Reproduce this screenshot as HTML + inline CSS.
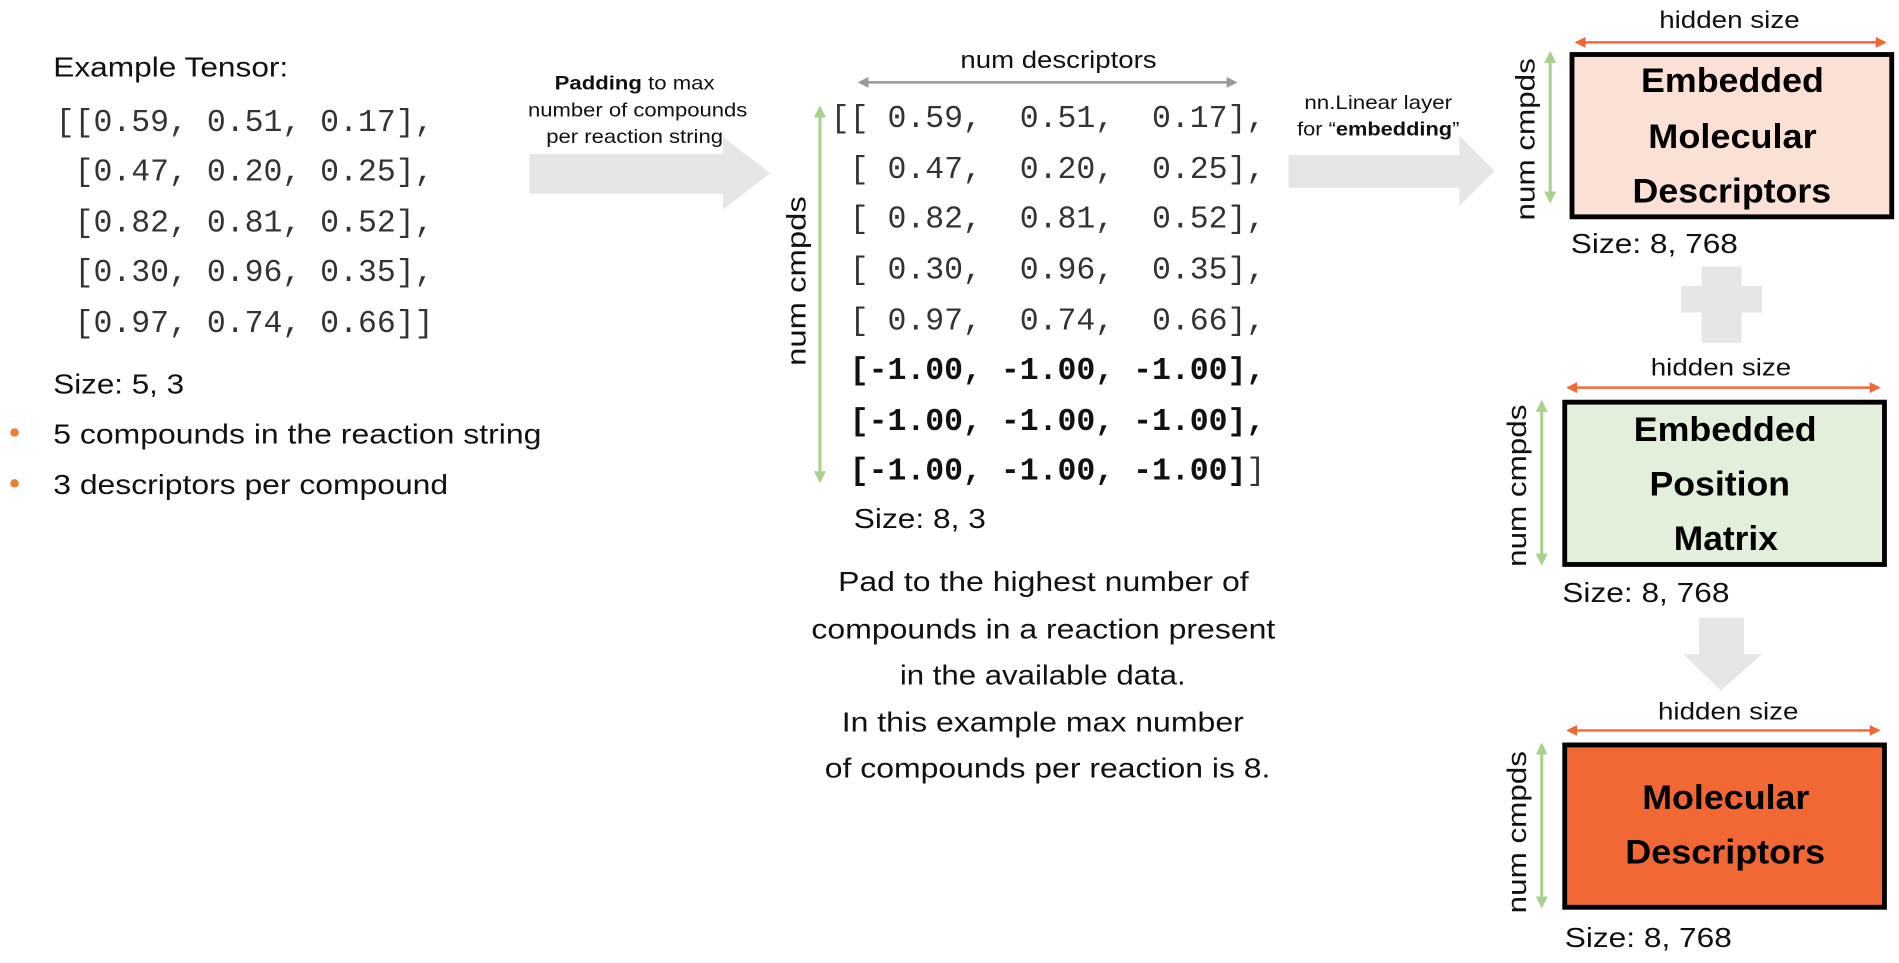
<!DOCTYPE html>
<html><head><meta charset="utf-8"><style>
html,body{margin:0;padding:0;background:#fff;overflow:hidden}
svg{display:block}
text{font-family:"Liberation Sans",Arial,sans-serif;fill:#111}
.mono{font-family:"Liberation Mono","Courier New",monospace;font-size:26px;fill:#333}
.bx{font-weight:bold;font-size:28px;fill:#000}
</style></head><body>
<svg width="1899" height="963" viewBox="0 0 1568 795" preserveAspectRatio="none" xmlns="http://www.w3.org/2000/svg">
<defs>
<marker id="ag" viewBox="0 0 10 10" refX="8" refY="5" markerWidth="9" markerHeight="9" markerUnits="userSpaceOnUse" orient="auto-start-reverse"><path d="M0,0L10,5L0,10z" fill="#999"/></marker>
<marker id="agr" viewBox="0 0 10 10" refX="8" refY="5" markerWidth="10" markerHeight="10" markerUnits="userSpaceOnUse" orient="auto-start-reverse"><path d="M0,0L10,5L0,10z" fill="#a9d18e"/></marker>
<marker id="ao" viewBox="0 0 10 10" refX="8" refY="5" markerWidth="12" markerHeight="9" markerUnits="userSpaceOnUse" orient="auto-start-reverse"><path d="M0,0L10,5L0,10z" fill="#f26835"/></marker>
</defs>

<g>
<text x="44" y="63" font-size="23" textLength="194" lengthAdjust="spacingAndGlyphs">Example Tensor:</text>
<text class="mono" xml:space="preserve">
<tspan x="46" y="108">[[0.59, 0.51, 0.17],</tspan>
<tspan x="46" y="149"> [0.47, 0.20, 0.25],</tspan>
<tspan x="46" y="191"> [0.82, 0.81, 0.52],</tspan>
<tspan x="46" y="232"> [0.30, 0.96, 0.35],</tspan>
<tspan x="46" y="274"> [0.97, 0.74, 0.66]]</tspan>
</text>
<text x="44" y="325" font-size="23" textLength="108" lengthAdjust="spacingAndGlyphs">Size: 5, 3</text>
<circle cx="12" cy="357" r="3.5" fill="#ed7d31"/>
<circle cx="12" cy="399" r="3.5" fill="#ed7d31"/>
<text x="44" y="366" font-size="23" textLength="403" lengthAdjust="spacingAndGlyphs">5 compounds in the reaction string</text>
<text x="44" y="408" font-size="23" textLength="326" lengthAdjust="spacingAndGlyphs">3 descriptors per compound</text>
</g>

<g>
<path d="M437,127H597V113L636,143L597,173V160H437Z" fill="#e6e6e6"/>
<text x="458" y="74" font-size="16" textLength="132" lengthAdjust="spacingAndGlyphs"><tspan font-weight="bold">Padding</tspan> to max</text>
<text x="436" y="96" font-size="16" textLength="181" lengthAdjust="spacingAndGlyphs">number of compounds</text>
<text x="451" y="118" font-size="16" textLength="146" lengthAdjust="spacingAndGlyphs">per reaction string</text>
</g>

<g>
<text x="793" y="56" font-size="20" textLength="162" lengthAdjust="spacingAndGlyphs">num descriptors</text>
<line x1="710" y1="68" x2="1020" y2="68" stroke="#999" stroke-width="2" marker-start="url(#ag)" marker-end="url(#ag)"/>
<line x1="677" y1="89" x2="677" y2="397" stroke="#a9d18e" stroke-width="2.5" marker-start="url(#agr)" marker-end="url(#agr)"/>
<text transform="translate(665,302) rotate(-90)" font-size="22" textLength="140" lengthAdjust="spacingAndGlyphs">num cmpds</text>
<text class="mono" xml:space="preserve">
<tspan x="686" y="105">[[ 0.59,  0.51,  0.17],</tspan>
<tspan x="686" y="147"> [ 0.47,  0.20,  0.25],</tspan>
<tspan x="686" y="188"> [ 0.82,  0.81,  0.52],</tspan>
<tspan x="686" y="230"> [ 0.30,  0.96,  0.35],</tspan>
<tspan x="686" y="272"> [ 0.97,  0.74,  0.66],</tspan>
<tspan x="686" y="313" font-weight="bold" fill="#111"> [-1.00, -1.00, -1.00],</tspan>
<tspan x="686" y="355" font-weight="bold" fill="#111"> [-1.00, -1.00, -1.00],</tspan>
<tspan x="686" y="396"><tspan font-weight="bold" fill="#111"> [-1.00, -1.00, -1.00]</tspan>]</tspan>
</text>
<text x="705" y="436" font-size="23" textLength="109" lengthAdjust="spacingAndGlyphs">Size: 8, 3</text>
<g font-size="23">
<text x="692" y="488" textLength="339" lengthAdjust="spacingAndGlyphs">Pad to the highest number of</text>
<text x="670" y="527" textLength="383" lengthAdjust="spacingAndGlyphs">compounds in a reaction present</text>
<text x="743" y="565" textLength="236" lengthAdjust="spacingAndGlyphs">in the available data.</text>
<text x="695" y="604" textLength="332" lengthAdjust="spacingAndGlyphs">In this example max number</text>
<text x="681" y="642" textLength="368" lengthAdjust="spacingAndGlyphs">of compounds per reaction is 8.</text>
</g>
</g>

<g>
<path d="M1064,128H1205V112L1234,141L1205,170V155H1064Z" fill="#e6e6e6"/>
<text x="1077" y="90" font-size="16" textLength="122" lengthAdjust="spacingAndGlyphs">nn.Linear layer</text>
<text x="1071" y="112" font-size="16" textLength="134" lengthAdjust="spacingAndGlyphs">for “<tspan font-weight="bold">embedding</tspan>”</text>
</g>

<g>
<text x="1370" y="23" font-size="20" textLength="116" lengthAdjust="spacingAndGlyphs">hidden size</text>
<line x1="1302" y1="35" x2="1556" y2="35" stroke="#f26835" stroke-width="2" marker-start="url(#ao)" marker-end="url(#ao)"/>
<line x1="1280" y1="44" x2="1280" y2="166" stroke="#a9d18e" stroke-width="2.5" marker-start="url(#agr)" marker-end="url(#agr)"/>
<text transform="translate(1267,182) rotate(-90)" font-size="22" textLength="134" lengthAdjust="spacingAndGlyphs">num cmpds</text>
<rect x="1298" y="45" width="264" height="134" fill="#fbe0d5" stroke="#000" stroke-width="4"/>
<text class="bx" x="1355" y="76" textLength="151" lengthAdjust="spacingAndGlyphs">Embedded</text>
<text class="bx" x="1361" y="122" textLength="139" lengthAdjust="spacingAndGlyphs">Molecular</text>
<text class="bx" x="1348" y="167" textLength="164" lengthAdjust="spacingAndGlyphs">Descriptors</text>
<text x="1297" y="209" font-size="23" textLength="138" lengthAdjust="spacingAndGlyphs">Size: 8, 768</text>
</g>

<g fill="#e6e6e6">
<rect x="1388" y="236" width="67" height="22"/><rect x="1405" y="220" width="33" height="63"/>
</g>

<g>
<text x="1363" y="310" font-size="20" textLength="116" lengthAdjust="spacingAndGlyphs">hidden size</text>
<line x1="1295" y1="320" x2="1551" y2="320" stroke="#f26835" stroke-width="2" marker-start="url(#ao)" marker-end="url(#ao)"/>
<line x1="1273" y1="332" x2="1273" y2="465" stroke="#a9d18e" stroke-width="2.5" marker-start="url(#agr)" marker-end="url(#agr)"/>
<text transform="translate(1260,468) rotate(-90)" font-size="22" textLength="134" lengthAdjust="spacingAndGlyphs">num cmpds</text>
<rect x="1292" y="332" width="264" height="134" fill="#e2efda" stroke="#000" stroke-width="4"/>
<text class="bx" x="1349" y="364" textLength="151" lengthAdjust="spacingAndGlyphs">Embedded</text>
<text class="bx" x="1362" y="409" textLength="116" lengthAdjust="spacingAndGlyphs">Position</text>
<text class="bx" x="1382" y="454" textLength="86" lengthAdjust="spacingAndGlyphs">Matrix</text>
<text x="1290" y="497" font-size="23" textLength="138" lengthAdjust="spacingAndGlyphs">Size: 8, 768</text>
</g>

<path d="M1403,510H1440V540H1455L1421,570L1390,540H1403Z" fill="#e6e6e6"/>

<g>
<text x="1369" y="594" font-size="20" textLength="116" lengthAdjust="spacingAndGlyphs">hidden size</text>
<line x1="1295" y1="603" x2="1551" y2="603" stroke="#f26835" stroke-width="2" marker-start="url(#ao)" marker-end="url(#ao)"/>
<line x1="1273" y1="615" x2="1273" y2="748" stroke="#a9d18e" stroke-width="2.5" marker-start="url(#agr)" marker-end="url(#agr)"/>
<text transform="translate(1260,754) rotate(-90)" font-size="22" textLength="134" lengthAdjust="spacingAndGlyphs">num cmpds</text>
<rect x="1292" y="615" width="264" height="134" fill="#f26835" stroke="#000" stroke-width="4"/>
<text class="bx" x="1356" y="668" textLength="138" lengthAdjust="spacingAndGlyphs">Molecular</text>
<text class="bx" x="1342" y="713" textLength="165" lengthAdjust="spacingAndGlyphs">Descriptors</text>
<text x="1292" y="782" font-size="23" textLength="138" lengthAdjust="spacingAndGlyphs">Size: 8, 768</text>
</g>
</svg>
</body></html>
